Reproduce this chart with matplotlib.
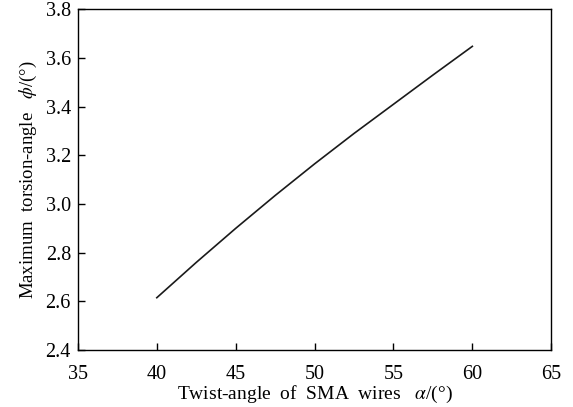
import matplotlib
matplotlib.use("Agg")
import matplotlib.pyplot as plt

twist_angle = [40, 42.5, 45, 47.5, 50, 52.5, 55, 57.5, 60]
torsion_angle = [2.615, 2.76, 2.90, 3.035, 3.165, 3.29, 3.41, 3.53, 3.648]
x_ticks = [35, 40, 45, 50, 55, 60, 65]
y_ticks = [2.4, 2.6, 2.8, 3.0, 3.2, 3.4, 3.6, 3.8]

plt.rcParams["font.family"] = ["Liberation Serif", "DejaVu Serif"]
plt.rcParams["mathtext.fontset"] = "stix"

fig = plt.figure(figsize=(5.73, 4.07), dpi=100)
ax = fig.add_axes([0.136, 0.140, 0.826, 0.837])
ax.plot(twist_angle, torsion_angle, color="#1a1a1a", linewidth=1.2)

ax.set_xlim(35, 65)
ax.set_ylim(2.4, 3.8)
ax.set_xticks(x_ticks)
ax.set_yticks(y_ticks)
ax.set_yticklabels([f"{v:.1f}" for v in y_ticks])
ax.tick_params(direction="in", length=5, width=1, labelsize=14.5,
               top=False, right=False)
ax.tick_params(axis="x", pad=11)
ax.tick_params(axis="y", pad=5)
for s in ax.spines.values():
    s.set_linewidth(1.0)

ax.set_xlabel("Twist-angle  of  SMA  wires   $\\alpha$/(°)", fontsize=14, labelpad=0)
ax.set_ylabel("Maximum  torsion-angle   $\\phi$/(°)", fontsize=13.5, labelpad=5)

fig.savefig("out.png", dpi=100)
